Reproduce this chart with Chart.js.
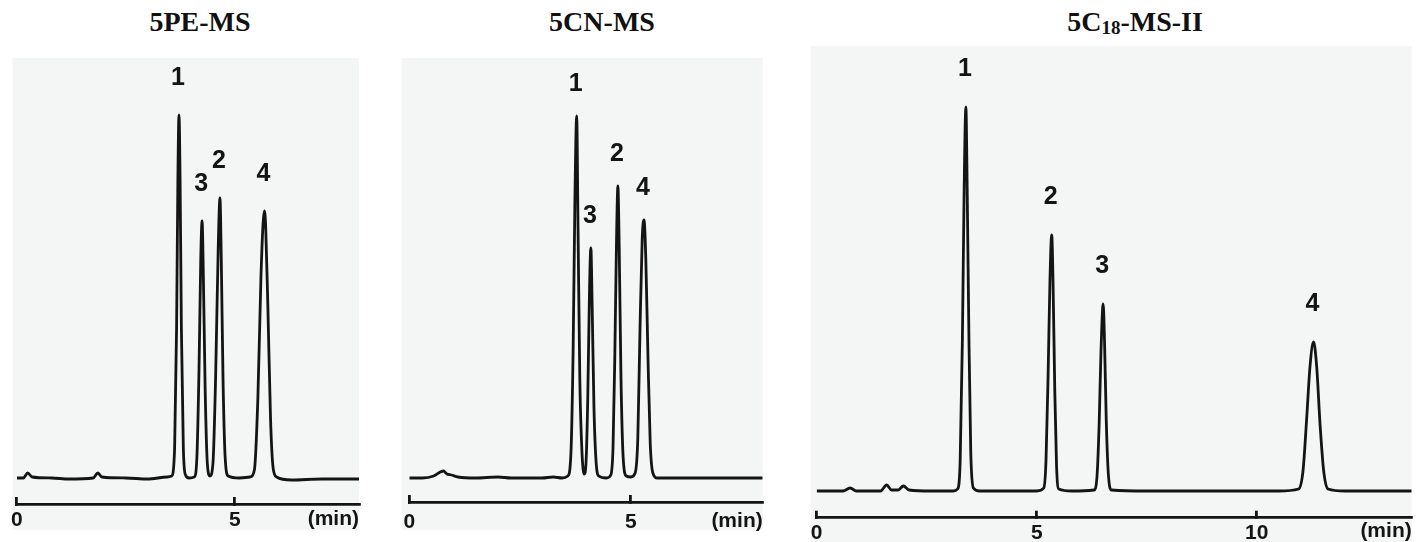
<!DOCTYPE html>
<html>
<head>
<meta charset="utf-8">
<script src="https://cdn.jsdelivr.net/npm/chart.js@4.4.1/dist/chart.umd.min.js"></script>
<style>
    html, body { margin: 0; padding: 0; background: #fff; }
    body { width: 1426px; height: 542px; overflow: hidden; position: relative; }
    canvas { position: absolute; top: 0; }
    .title {
        position: absolute; top: 8px; line-height: 28px; transform: translateX(-50%);
        font-family: "Liberation Serif", "Times New Roman", serif; font-weight: bold; font-size: 28px;
        color: #111; white-space: nowrap;
    }
    .title sub { font-size: 19px; vertical-align: -3px; line-height: 0; }
</style>
</head>
<body>
<div class="title" style="left:200px">5PE-MS</div>
<div class="title" style="left:602px">5CN-MS</div>
<div class="title" style="left:1135px">5C<sub>18</sub>-MS-II</div>

<canvas id="chartPE" width="375" height="542" style="left:0px"></canvas>
<canvas id="chartCN" width="400" height="542" style="left:380px"></canvas>
<canvas id="chartC18" width="636" height="546" style="left:790px"></canvas>

<script>
// 5PE-MS (time in min, detector signal)
const peTime = [0, 0.15, 0.25, 0.35, 0.8, 1.2, 1.75, 1.86, 1.95, 2.5, 3.0, 3.45, 3.55, 3.62, 3.665, 3.695, 3.72, 3.745, 3.775, 3.82, 3.87, 3.95,
    4.07, 4.13, 4.18, 4.22, 4.25, 4.28, 4.32, 4.37, 4.43, 4.5, 4.56, 4.62, 4.66, 4.69, 4.73, 4.78, 4.85,
    5.1, 5.35, 5.45, 5.53, 5.6, 5.65, 5.68, 5.71, 5.76, 5.82, 5.88, 5.96, 6.3, 7.0, 7.85];
const peSignal = [0, 0, 5, 1, 0, -1, 0, 5, 1, 0, -1, 1, 2, 30, 150, 300, 363, 300, 150, 30, 3, 0,
    1, 20, 110, 220, 257, 200, 90, 15, 2, 15, 100, 230, 280, 220, 100, 20, 2,
    0, 1, 8, 80, 200, 255, 267, 250, 170, 60, 10, 1, -2, -1, -1];
const pePeakTime = [3.72, 4.66, 4.25, 5.68];
const pePeakName = ['1', '2', '3', '4'];
const peTicks = [0, 5];

// 5CN-MS
const cnTime = [0, 0.3, 0.55, 0.7, 0.77, 0.85, 0.95, 1.1, 1.5, 2.0, 2.3, 3.0, 3.25, 3.45, 3.58, 3.65, 3.7, 3.74, 3.78, 3.81, 3.85, 3.9, 3.95,
    3.99, 4.03, 4.07, 4.1, 4.13, 4.17, 4.22, 4.28, 4.45, 4.55, 4.6, 4.64, 4.68, 4.71, 4.74, 4.78, 4.83, 4.9,
    5.0, 5.1, 5.16, 5.21, 5.26, 5.3, 5.34, 5.39, 5.44, 5.5, 5.6, 6.5, 7.98];
const cnSignal = [0, 0, 2, 6, 7, 4, 3, 1, 0, 1, 0, 0, 1, 0, 2, 25, 130, 280, 362, 250, 100, 25, 4,
    15, 80, 190, 230, 170, 70, 15, 2, 0, 3, 30, 120, 240, 292, 230, 100, 20, 2,
    1, 5, 40, 150, 240, 258, 220, 120, 35, 5, 0, 0, 0];
const cnPeakTime = [3.78, 4.71, 4.10, 5.30];
const cnPeakName = ['1', '2', '3', '4'];
const cnTicks = [0, 5];

// 5C18-MS-II
const c18Time = [0, 0.6, 0.76, 0.9, 1.3, 1.45, 1.59, 1.7, 1.85, 1.97, 2.1, 2.6, 3.1, 3.2, 3.26, 3.31, 3.35, 3.39, 3.42, 3.46, 3.5, 3.56, 3.7,
    4.5, 5.0, 5.16, 5.21, 5.26, 5.3, 5.34, 5.37, 5.41, 5.45, 5.5, 5.8,
    6.3, 6.37, 6.42, 6.46, 6.51, 6.54, 6.58, 6.63, 6.7, 7.5, 8.6, 9.5, 10.5,
    10.95, 11.05, 11.13, 11.21, 11.29, 11.36, 11.44, 11.52, 11.62, 12.0, 13.52];
const c18Signal = [0, 0, 3, 0, 0, 0, 6, 1, 1, 5, 1, 0, 0, 2, 30, 150, 300, 384, 300, 150, 40, 3, 0,
    0, 0, 3, 30, 120, 210, 256, 210, 100, 25, 2, 0,
    1, 15, 70, 140, 187, 150, 70, 15, 1, 0, 0, 0, 0,
    2, 20, 70, 125, 149, 125, 65, 20, 2, 0, 0];
const c18PeakTime = [3.39, 5.34, 6.51, 11.29];
const c18PeakName = ['1', '2', '3', '4'];
const c18Ticks = [0, 5, 10];

const INK = '#141414';

// light panel behind each chromatogram
const panelBackground = {
    id: 'panelBg',
    beforeDraw(chart, args, opts) {
        const { ctx, chartArea } = chart;
        ctx.save();
        ctx.fillStyle = opts.color;
        ctx.fillRect(chartArea.left - opts.left, chartArea.top, chartArea.right - chartArea.left + opts.left,
            chartArea.bottom - chartArea.top + opts.bottom);
        ctx.restore();
    }
};

// peak numbers above each apex
const peakLabels = {
    id: 'peakLabels',
    afterDatasetsDraw(chart, args, opts) {
        const { ctx, scales } = chart;
        const points = chart.data.datasets[0].data;
        ctx.save();
        ctx.fillStyle = INK;
        ctx.font = 'bold 25px "Liberation Sans", Arial, sans-serif';
        ctx.textAlign = 'center';
        ctx.textBaseline = 'middle';
        opts.times.forEach((t, i) => {
            let top = 0;
            points.forEach(p => {
                if (Math.abs(p.x - t) < 0.08 && p.y > top) top = p.y;
            });
            const x = scales.x.getPixelForValue(t);
            const y = scales.y.getPixelForValue(top);
            ctx.fillText(opts.names[i], x - 1, y - opts.gap);
        });
        ctx.restore();
    }
};

function createChromatogram(canvasId, time, signal, peakTime, peakName, ticks, layout) {
    const ctx = document.getElementById(canvasId).getContext('2d');
    const axisFont = { family: '"Liberation Sans", Arial, sans-serif', size: 21, weight: 'bold' };

    return new Chart(ctx, {
        type: 'line',
        data: {
            datasets: [{
                data: time.map((t, i) => ({ x: t, y: signal[i] })),
                borderColor: INK,
                borderWidth: 2.8,
                pointRadius: 0,
                cubicInterpolationMode: 'monotone',
                fill: false
            }]
        },
        options: {
            responsive: false,
            animation: false,
            layout: { padding: layout.padding },
            plugins: {
                legend: { display: false },
                tooltip: { enabled: false },
                panelBg: { color: '#f3f6f4', left: layout.bgLeft, bottom: layout.bgBottom },
                peakLabels: { times: peakTime, names: peakName, gap: layout.labelGap }
            },
            scales: {
                x: {
                    type: 'linear',
                    min: 0,
                    max: layout.xMax,
                    afterBuildTicks: scale => { scale.ticks = ticks.map(v => ({ value: v })); },
                    afterFit: scale => { scale.height = layout.axisHeight; },
                    border: { display: true, color: INK, width: 2.8 },
                    grid: { drawOnChartArea: false, drawTicks: true, tickLength: -7, color: INK, lineWidth: 2.8 },
                    ticks: { padding: layout.tickPad, color: INK, font: axisFont, maxRotation: 0, autoSkip: false },
                    title: { display: true, text: '(min)', align: 'end', color: INK, font: axisFont, padding: 0 }
                },
                y: {
                    display: false,
                    min: layout.yMin,
                    max: layout.yMax
                }
            }
        },
        plugins: [panelBackground, peakLabels]
    });
}

createChromatogram('chartPE', peTime, peSignal, pePeakTime, pePeakName, peTicks, {
    padding: { left: 12.3, right: 16, top: 58, bottom: 10 },
    axisHeight: 28, tickPad: 11, xMax: 7.85, yMin: -26, yMax: 420,
    bgLeft: 4.3, bgBottom: 26, labelGap: 37
});

createChromatogram('chartCN', cnTime, cnSignal, cnPeakTime, cnPeakName, cnTicks, {
    padding: { left: 29.3, right: 17.3, top: 58, bottom: 8 },
    axisHeight: 32, tickPad: 15, xMax: 7.98, yMin: -24, yMax: 420,
    bgLeft: 7.6, bgBottom: 28, labelGap: 32
});

createChromatogram('chartC18', c18Time, c18Signal, c18PeakTime, c18PeakName, c18Ticks, {
    padding: { left: 26.7, right: 14.3, top: 46, bottom: 2 },
    axisHeight: 26.3, tickPad: 10, xMax: 13.52, yMin: -26.7, yMax: 445,
    bgLeft: 6, bgBottom: 25, labelGap: 38
});
</script>
</body>
</html>
